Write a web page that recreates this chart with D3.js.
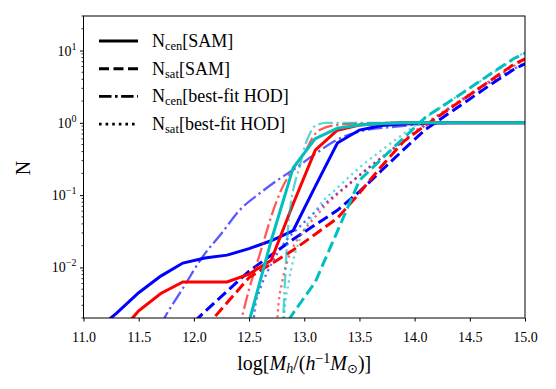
<!DOCTYPE html>
<html>
<head>
<meta charset="utf-8">
<script src="https://cdn.jsdelivr.net/npm/d3@7"></script>
<style>
  body { margin: 0; background: #fff; }
  svg { display: block; font-family: "Liberation Serif", "DejaVu Serif", serif; }
</style>
</head>
<body>
<svg width="556" height="389"></svg>
<script>
// halo mass bins of the SAM curves, log[Mh]
const samMass = [11.1, 11.3, 11.5, 11.7, 11.9, 12.1, 12.3, 12.5, 12.7, 12.9, 13.1,
    13.3, 13.5, 13.7, 13.9, 14.1, 14.3, 14.5, 14.7, 14.9, 15.1]

const samCenBlue = [0.00129, 0.00234, 0.00447, 0.00759, 0.0115, 0.0135, 0.0148, 0.0182, 0.0234, 0.0324, 0.132,
    0.525, 0.794, 0.92, 0.966, 0.99, 1, 1, 1, 1, 1]
const samCenRed = [0.00063, 0.00112, 0.00251, 0.00437, 0.0063, 0.0063, 0.0063, 0.0081, 0.0126, 0.0759, 0.42,
    0.79, 0.93, 0.98, 1, 1, 1, 1, 1, 1, 1]
const samCenCyan = [null, null, null, null, null, null, 0.0004, 0.00178, 0.0234, 0.24, 0.603,
    0.84, 0.93, 0.98, 1, 1, 1, 1, 1, 1, 1]

const samSatBlue = [null, null, null, null, 0.00126, 0.00245, 0.00468, 0.0089, 0.0148, 0.0245, 0.0389,
    0.0617, 0.112, 0.219, 0.427, 0.813, 1.32, 2.14, 3.47, 5.5, 7.8]
const samSatRed = [null, null, null, null, null, 0.00145, 0.00324, 0.00724, 0.0112, 0.0174, 0.0288,
    0.0479, 0.107, 0.251, 0.55, 0.93, 1.51, 2.45, 3.98, 6.46, 9.0]
const samSatCyan = [null, null, null, null, null, null, null, null, 0.00079, 0.00234, 0.0063,
    0.0316, 0.16, 0.316, 0.617, 1.2, 1.9, 3.02, 4.9, 7.76, 10.8]

// best-fit HOD curves
const hodCenBlueMass = [11.6, 11.74, 11.9, 12.08, 12.25, 12.42, 12.6, 12.75, 12.9, 13.1, 13.29, 13.56, 13.86, 14.14, 14.5, 15.0]
const hodCenBlue = [0.00079, 0.00209, 0.00513, 0.0141, 0.0295, 0.0631, 0.107, 0.158, 0.224, 0.372, 0.575, 0.794, 0.891, 0.977, 1, 1]
const hodCenRedMass = [12.4, 12.45, 12.5, 12.55, 12.6, 12.65, 12.7, 12.8, 12.9, 13.0, 13.1, 13.2, 13.3, 13.5, 14.0, 15.0]
const hodCenRed = [0.00126, 0.00251, 0.00501, 0.00891, 0.0158, 0.0282, 0.0501, 0.126, 0.229, 0.38, 0.708, 0.871, 0.933, 0.977, 1, 1]
const hodCenCyanMass = [12.79, 12.81, 12.83, 12.85, 12.88, 12.92, 12.96, 13.0, 13.05, 13.1, 13.2, 15.0]
const hodCenCyan = [0.0005, 0.00209, 0.0089, 0.0302, 0.0794, 0.158, 0.251, 0.447, 0.708, 0.912, 1, 1]

const hodSatBlueMass = [12.52, 12.55, 12.6, 12.66, 12.75, 12.84, 12.95, 13.05, 13.2, 13.4, 13.6, 13.8, 14.0, 14.3, 14.6, 15.0]
const hodSatBlue = [0.00063, 0.00251, 0.00501, 0.0083, 0.0151, 0.024, 0.0355, 0.0501, 0.0794, 0.141, 0.251, 0.427, 0.724, 1.51, 3.02, 6.76]
const hodSatRedMass = [12.74, 12.76, 12.8, 12.85, 12.9, 13.0, 13.1, 13.2, 13.4, 13.6, 13.8, 14.0, 14.3, 14.6, 15.0]
const hodSatRed = [0.00063, 0.00234, 0.0063, 0.0126, 0.0191, 0.0331, 0.0501, 0.0741, 0.138, 0.251, 0.437, 0.759, 1.58, 3.16, 7.59]
const hodSatCyanMass = [12.8, 12.82, 12.86, 12.9, 12.95, 13.05, 13.15, 13.3, 13.5, 13.7, 14.0, 14.3, 14.6, 15.0]
const hodSatCyan = [0.0005, 0.00234, 0.0063, 0.0126, 0.0224, 0.0457, 0.0759, 0.126, 0.24, 0.417, 0.912, 1.91, 3.8, 9.55]

const xTicks = [11.0, 11.5, 12.0, 12.5, 13.0, 13.5, 14.0, 14.5, 15.0]
const yTicks = [0.01, 0.1, 1, 10]
const yTickExp = ['\u22122', '\u22121', '0', '1']

const legendLabels = [
    { sub: 'cen', text: '[SAM]', style: 'solid' },
    { sub: 'sat', text: '[SAM]', style: 'dashed' },
    { sub: 'cen', text: '[best-fit HOD]', style: 'dashdot' },
    { sub: 'sat', text: '[best-fit HOD]', style: 'dotted' }
]

const
    blue = '#0000ff',
    red = '#ff0000',
    cyan = '#00bfbf'

const styles = {
    solid: { width: 3, dash: null, opacity: 1 },
    dashed: { width: 3, dash: '11.1,4.8', opacity: 1 },
    dashdot: { width: 2.3, dash: '14.7,3.7,2.3,3.7', opacity: 0.65 },
    dotted: { width: 2.3, dash: '2.3,3.8', opacity: 0.6 }
}

const series = [
    { color: blue, style: 'solid', x: samMass, y: samCenBlue },
    { color: blue, style: 'dashed', x: samMass, y: samSatBlue },
    { color: blue, style: 'dashdot', x: hodCenBlueMass, y: hodCenBlue },
    { color: blue, style: 'dotted', x: hodSatBlueMass, y: hodSatBlue },
    { color: red, style: 'solid', x: samMass, y: samCenRed },
    { color: red, style: 'dashed', x: samMass, y: samSatRed },
    { color: red, style: 'dashdot', x: hodCenRedMass, y: hodCenRed },
    { color: red, style: 'dotted', x: hodSatRedMass, y: hodSatRed },
    { color: cyan, style: 'solid', x: samMass, y: samCenCyan },
    { color: cyan, style: 'dashed', x: samMass, y: samSatCyan },
    { color: cyan, style: 'dashdot', x: hodCenCyanMass, y: hodCenCyan },
    { color: cyan, style: 'dotted', x: hodSatCyanMass, y: hodSatCyan }
]

const
    margin = { top: 16, right: 31, bottom: 71, left: 83.5 },
    width = 556,
    height = 389

const x = d3.scaleLinear()
    .domain([11, 15])
    .range([margin.left, width - margin.right])

const y = d3.scaleLog()
    .domain([0.002, 30])
    .range([height - margin.bottom, margin.top])

const svg = d3.select('svg')

svg.append('defs').append('clipPath')
    .attr('id', 'plot-area')
    .append('rect')
    .attr('x', margin.left)
    .attr('y', margin.top)
    .attr('width', width - margin.right - margin.left)
    .attr('height', height - margin.bottom - margin.top)

const lines = svg.append('g').attr('clip-path', 'url(#plot-area)')

series.forEach(s => {
    const st = styles[s.style]
    const pts = s.x.map((m, i) => [m, s.y[i]])
    const line = d3.line()
        .defined(d => d[1] != null)
        .x(d => x(d[0]))
        .y(d => y(d[1]))
        .curve(s.style === 'solid' || s.style === 'dashed' ? d3.curveLinear : d3.curveMonotoneX)

    lines.append('path')
        .datum(pts)
        .attr('fill', 'none')
        .attr('stroke', s.color)
        .attr('stroke-opacity', st.opacity)
        .attr('stroke-width', st.width)
        .attr('stroke-dasharray', st.dash)
        .attr('d', line)
})

// axes
const xAxis = g => g
    .attr('transform', `translate(0,${height - margin.bottom})`)
    .call(d3.axisBottom(x).tickValues(xTicks).tickFormat(d3.format('.1f')).tickSize(3.5).tickSizeOuter(0))
    .attr('font-family', null)
    .attr('font-size', null)
    .call(g => g.select('.domain').remove())
    .call(g => g.selectAll('text').attr('y', 14).attr('dy', '0.71em').attr('font-size', 14))

const yMinor = []
for (let e = -3; e <= 1; e++) {
    for (let k = 2; k <= 9; k++) {
        const v = k * Math.pow(10, e)
        if (v >= 0.002 && v <= 30) yMinor.push(v)
    }
}

const yAxis = g => g
    .attr('transform', `translate(${margin.left},0)`)
    .call(d3.axisLeft(y).tickValues(yTicks).tickFormat('').tickSize(3.5).tickSizeOuter(0))
    .call(g => g.select('.domain').remove())

svg.append('g').call(xAxis)
svg.append('g').call(yAxis)

svg.append('g')
    .selectAll('line')
    .data(yMinor)
    .enter().append('line')
    .attr('x1', margin.left - 2)
    .attr('x2', margin.left)
    .attr('y1', d => y(d))
    .attr('y2', d => y(d))
    .attr('stroke', '#000')
    .attr('stroke-width', 0.8)

const yLabels = svg.append('g')
    .selectAll('text')
    .data(yTicks)
    .enter().append('text')
    .attr('x', margin.left - 7)
    .attr('y', d => y(d) + 5)
    .attr('text-anchor', 'end')
    .attr('font-size', 14)

yLabels.append('tspan').text('10')
yLabels.append('tspan')
    .attr('font-size', 10)
    .attr('dy', -6)
    .text((d, i) => yTickExp[i])

// frame
svg.append('rect')
    .attr('x', margin.left)
    .attr('y', margin.top)
    .attr('width', width - margin.right - margin.left)
    .attr('height', height - margin.bottom - margin.top)
    .attr('fill', 'none')
    .attr('stroke', '#000')
    .attr('stroke-width', 1)

// axis titles
const xTitle = svg.append('text')
    .attr('x', (margin.left + width - margin.right) / 2)
    .attr('y', 370)
    .attr('text-anchor', 'middle')
    .attr('font-size', 20)

xTitle.append('tspan').text('log[')
xTitle.append('tspan').attr('font-style', 'italic').text('M')
xTitle.append('tspan').attr('font-style', 'italic').attr('font-size', 14).attr('dy', 3).text('h')
xTitle.append('tspan').attr('dy', -3).text('/(')
xTitle.append('tspan').attr('font-style', 'italic').text('h')
xTitle.append('tspan').attr('font-size', 14).attr('dy', -7).text('\u22121')
xTitle.append('tspan').attr('font-style', 'italic').attr('dy', 7).text('M')
xTitle.append('tspan').attr('font-size', 13).attr('dy', 3).attr('font-family', 'DejaVu Sans').text('\u2299')
xTitle.append('tspan').attr('dy', -3).text(')]')

svg.append('text')
    .attr('transform', 'translate(30,168) rotate(-90)')
    .attr('text-anchor', 'middle')
    .attr('font-size', 20)
    .text('N')

// legend
const legend = svg.append('g')
    .selectAll('g')
    .data(legendLabels)
    .enter().append('g')
    .attr('transform', (d, i) => `translate(99,${41 + i * 27.7})`)

legend.append('line')
    .attr('x1', 0)
    .attr('x2', 39)
    .attr('stroke', '#000')
    .attr('stroke-width', d => d.style === 'solid' || d.style === 'dashed' ? 3 : 2.6)
    .attr('stroke-dasharray', d => d.style === 'solid' ? null
        : d.style === 'dashed' ? '10,4.5'
        : d.style === 'dotted' ? '2.6,4' : '12.5,3.5,2.6,3.5')

const legendText = legend.append('text')
    .attr('x', 53)
    .attr('y', 6)
    .attr('font-size', 18)

legendText.append('tspan').text('N')
legendText.append('tspan').attr('font-size', 12.5).attr('dy', 3).text(d => d.sub)
legendText.append('tspan').attr('dy', -3).text(d => d.text)
</script>
</body>
</html>
